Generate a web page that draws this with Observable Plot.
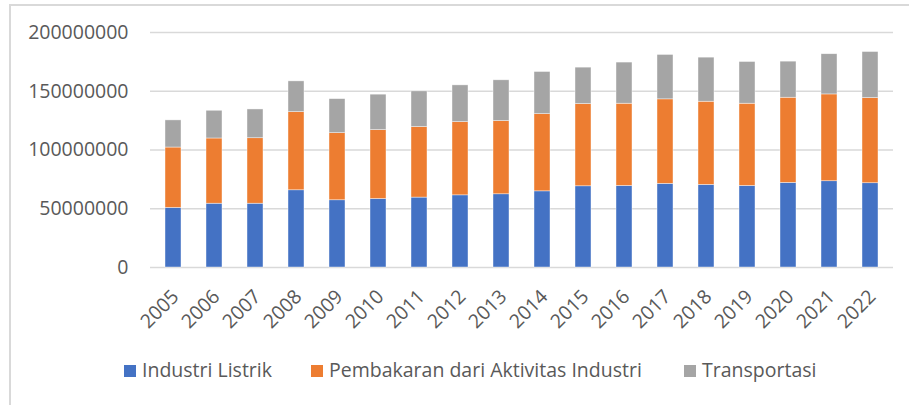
<!DOCTYPE html>
<html>
<head>
<meta charset="utf-8">
<script src="https://cdn.jsdelivr.net/npm/d3@7"></script>
<script src="https://cdn.jsdelivr.net/npm/@observablehq/plot@0.6"></script>
<style>
  html, body { margin: 0; padding: 0; background: #fff; overflow: hidden; }
  #wrap { position: relative; width: 909px; height: 405px; overflow: hidden; background: #fff; }
  #frame { position: absolute; left: 9px; top: 4px; width: 920px; height: 420px; border: 2px solid #D9D9D9; box-sizing: border-box; }
  #chart { position: absolute; left: 0; top: 0; }
  #legend { position: absolute; left: 0; top: 356px; width: 909px; height: 30px; font-family: "Open Sans", sans-serif; font-size: 19.5px; color: #595959; white-space: nowrap; }
  .item { position: absolute; top: 0; display: flex; align-items: center; }
  .sw { width: 12px; height: 12px; margin-right: 6px; margin-top: 2px; }
</style>
</head>
<body>
<div id="wrap">
  <div id="frame"></div>
  <div id="chart"></div>
  <div id="legend"></div>
</div>
<script>
const years = ["2005","2006","2007","2008","2009","2010","2011","2012","2013","2014","2015","2016","2017","2018","2019","2020","2021","2022"];
const series = ["Industri Listrik", "Pembakaran dari Aktivitas Industri", "Transportasi"];
const colors = ["#4472C4", "#ED7D31", "#A5A5A5"];
const industriListrik = [50700000, 54300000, 54300000, 65700000, 57200000, 58300000, 59500000, 61400000, 62300000, 64800000, 69100000, 69400000, 71200000, 70300000, 69400000, 72000000, 73400000, 71700000];
const pembakaran = [51400000, 55500000, 55700000, 66500000, 57100000, 58600000, 60000000, 62300000, 62300000, 65700000, 70000000, 70000000, 71900000, 70800000, 70000000, 72500000, 73900000, 72500000];
const transportasi = [23100000, 23600000, 24500000, 26200000, 29000000, 30200000, 30400000, 31300000, 34700000, 35900000, 31000000, 35000000, 37800000, 37500000, 35500000, 30700000, 34200000, 39200000];
const yTicks = [0, 50000000, 100000000, 150000000, 200000000];

const seriesValues = [industriListrik, pembakaran, transportasi];
const data = [];
series.forEach((s, si) => {
  years.forEach((y, i) => data.push({year: y, series: s, value: seriesValues[si][i]}));
});

const chart = Plot.plot({
  width: 909,
  height: 345,
  marginLeft: 150,
  marginRight: 16,
  marginTop: 32,
  marginBottom: 78,
  style: {fontFamily: "Open Sans, sans-serif", fontSize: "19.5px", color: "#595959", background: "transparent", overflow: "visible"},
  x: {domain: years, paddingInner: 0.6, paddingOuter: 0.3, label: null},
  y: {domain: [0, 200000000], label: null},
  color: {domain: series, range: colors},
  marks: [
    Plot.ruleY(yTicks, {stroke: "#D9D9D9", strokeWidth: 1.5}),
    Plot.barY(data, {x: "year", y: "value", fill: "series", order: series, stroke: "#ffffff", strokeWidth: 0.6, strokeOpacity: 0.7}),
    Plot.axisY({ticks: yTicks, tickSize: 0, tickPadding: 22, tickFormat: d3.format("d"), label: null}),
    Plot.axisX({tickSize: 0, tickRotate: -45, tickPadding: 26, dx: 2, label: null})
  ]
});
document.getElementById("chart").appendChild(chart);

const legendLeft = [124, 311, 684];
const legend = document.getElementById("legend");
series.forEach((s, i) => {
  const item = document.createElement("div");
  item.className = "item";
  item.style.left = legendLeft[i] + "px";
  const sw = document.createElement("div");
  sw.className = "sw";
  sw.style.background = colors[i];
  const t = document.createElement("span");
  t.textContent = s;
  item.appendChild(sw);
  item.appendChild(t);
  legend.appendChild(item);
});
</script>
</body>
</html>
